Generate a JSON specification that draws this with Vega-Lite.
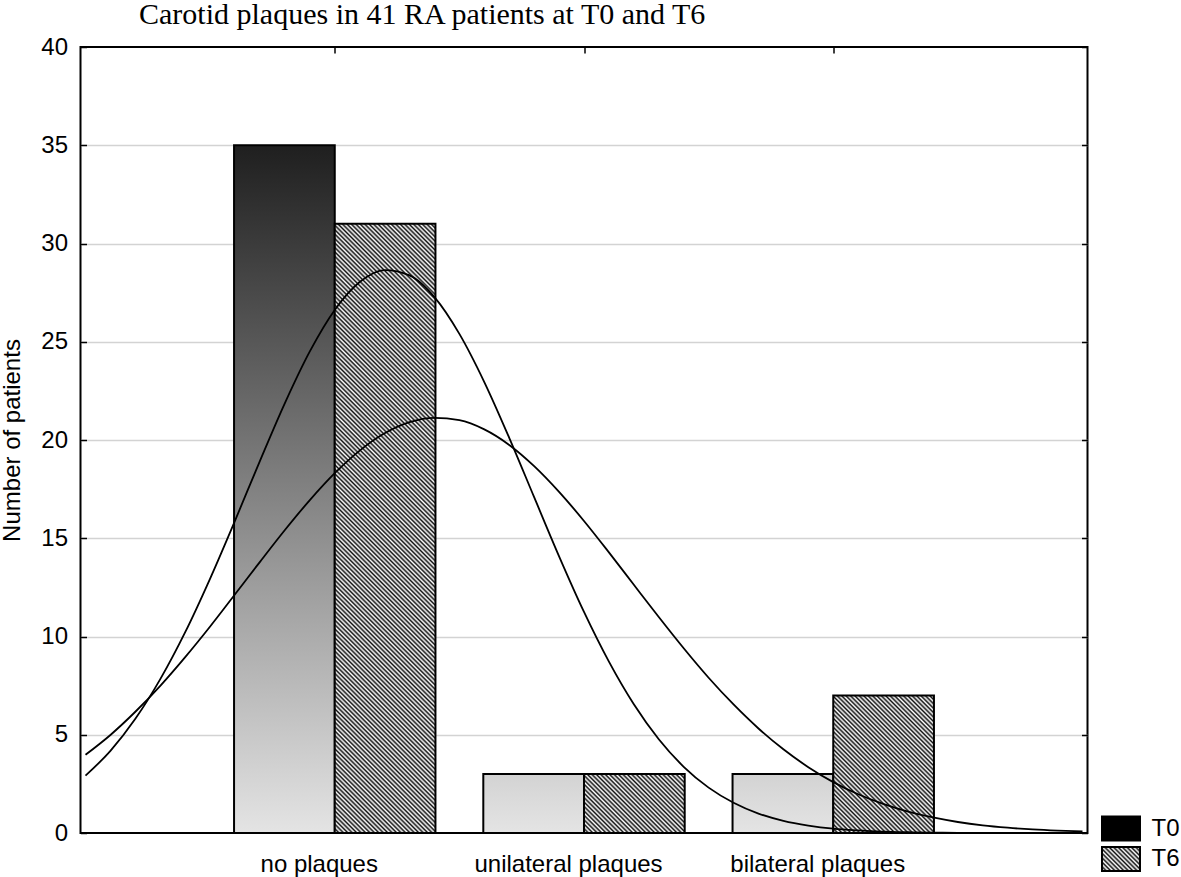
{
  "$schema": "https://vega.github.io/schema/vega-lite/v6.json",
  "width": 1007,
  "height": 786,
  "autosize": {"type": "none"},
  "padding": {"left": 80.5, "top": 47, "right": 93.5, "bottom": 44},
  "background": "white",
  "title": {"text": "Carotid plaques in 41 RA patients at T0 and T6", "anchor": "start", "frame": "group", "dx": 58.5, "offset": -19, "baseline": "alphabetic", "font": "Liberation Serif", "fontSize": 30, "fontWeight": "normal", "color": "#000"},
  "config": {
    "view": {"stroke": "#000", "strokeWidth": 2},
    "font": "Liberation Sans",
    "axis": {"labelFont": "Liberation Sans", "labelFontSize": 24, "labelColor": "#000", "titleFont": "Liberation Sans", "titleFontSize": 24, "titleFontWeight": "normal", "titleColor": "#000", "tickColor": "#000", "domain": false, "labelLimit": 400}
  },
  "datasets": {
    "bars": [
      {"category": "no plaques", "cat": 0, "series": "T0", "count": 35},
      {"category": "unilateral plaques", "cat": 1, "series": "T0", "count": 3},
      {"category": "bilateral plaques", "cat": 2, "series": "T0", "count": 3},
      {"category": "no plaques", "cat": 0, "series": "T6", "count": 31},
      {"category": "unilateral plaques", "cat": 1, "series": "T6", "count": 3},
      {"category": "bilateral plaques", "cat": 2, "series": "T6", "count": 7}
    ],
    "curves": [
      {"series": "T0", "pos": -1.0, "expected": 2.92},
      {"series": "T0", "pos": -0.9, "expected": 4.18},
      {"series": "T0", "pos": -0.8, "expected": 5.81},
      {"series": "T0", "pos": -0.7, "expected": 7.83},
      {"series": "T0", "pos": -0.6, "expected": 10.22},
      {"series": "T0", "pos": -0.5, "expected": 12.95},
      {"series": "T0", "pos": -0.4, "expected": 15.90},
      {"series": "T0", "pos": -0.3, "expected": 18.94},
      {"series": "T0", "pos": -0.2, "expected": 21.88},
      {"series": "T0", "pos": -0.1, "expected": 24.51},
      {"series": "T0", "pos": 0.0, "expected": 26.62},
      {"series": "T0", "pos": 0.1, "expected": 28.04},
      {"series": "T0", "pos": 0.2, "expected": 28.65},
      {"series": "T0", "pos": 0.3, "expected": 28.38},
      {"series": "T0", "pos": 0.4, "expected": 27.27},
      {"series": "T0", "pos": 0.5, "expected": 25.40},
      {"series": "T0", "pos": 0.6, "expected": 22.95},
      {"series": "T0", "pos": 0.7, "expected": 20.11},
      {"series": "T0", "pos": 0.8, "expected": 17.09},
      {"series": "T0", "pos": 0.9, "expected": 14.08},
      {"series": "T0", "pos": 1.0, "expected": 11.25},
      {"series": "T0", "pos": 1.1, "expected": 8.72},
      {"series": "T0", "pos": 1.2, "expected": 6.55},
      {"series": "T0", "pos": 1.3, "expected": 4.77},
      {"series": "T0", "pos": 1.4, "expected": 3.37},
      {"series": "T0", "pos": 1.5, "expected": 2.31},
      {"series": "T0", "pos": 1.6, "expected": 1.54},
      {"series": "T0", "pos": 1.7, "expected": 0.99},
      {"series": "T0", "pos": 1.8, "expected": 0.62},
      {"series": "T0", "pos": 1.9, "expected": 0.38},
      {"series": "T0", "pos": 2.0, "expected": 0.22},
      {"series": "T0", "pos": 2.1, "expected": 0.13},
      {"series": "T0", "pos": 2.2, "expected": 0.07},
      {"series": "T0", "pos": 2.3, "expected": 0.04},
      {"series": "T0", "pos": 2.4, "expected": 0.02},
      {"series": "T0", "pos": 2.5, "expected": 0.01},
      {"series": "T0", "pos": 2.7, "expected": 0.0},
      {"series": "T0", "pos": 3.0, "expected": 0.0},
      {"series": "T6", "pos": -1.0, "expected": 3.98},
      {"series": "T6", "pos": -0.9, "expected": 4.99},
      {"series": "T6", "pos": -0.8, "expected": 6.17},
      {"series": "T6", "pos": -0.7, "expected": 7.49},
      {"series": "T6", "pos": -0.6, "expected": 8.95},
      {"series": "T6", "pos": -0.5, "expected": 10.51},
      {"series": "T6", "pos": -0.4, "expected": 12.15},
      {"series": "T6", "pos": -0.3, "expected": 13.80},
      {"series": "T6", "pos": -0.2, "expected": 15.42},
      {"series": "T6", "pos": -0.1, "expected": 16.94},
      {"series": "T6", "pos": 0.0, "expected": 18.31},
      {"series": "T6", "pos": 0.1, "expected": 19.46},
      {"series": "T6", "pos": 0.2, "expected": 20.34},
      {"series": "T6", "pos": 0.3, "expected": 20.91},
      {"series": "T6", "pos": 0.4, "expected": 21.13},
      {"series": "T6", "pos": 0.5, "expected": 21.01},
      {"series": "T6", "pos": 0.6, "expected": 20.54},
      {"series": "T6", "pos": 0.7, "expected": 19.75},
      {"series": "T6", "pos": 0.8, "expected": 18.67},
      {"series": "T6", "pos": 0.9, "expected": 17.36},
      {"series": "T6", "pos": 1.0, "expected": 15.88},
      {"series": "T6", "pos": 1.1, "expected": 14.28},
      {"series": "T6", "pos": 1.2, "expected": 12.63},
      {"series": "T6", "pos": 1.3, "expected": 10.99},
      {"series": "T6", "pos": 1.4, "expected": 9.40},
      {"series": "T6", "pos": 1.5, "expected": 7.90},
      {"series": "T6", "pos": 1.6, "expected": 6.54},
      {"series": "T6", "pos": 1.7, "expected": 5.32},
      {"series": "T6", "pos": 1.8, "expected": 4.26},
      {"series": "T6", "pos": 1.9, "expected": 3.35},
      {"series": "T6", "pos": 2.0, "expected": 2.59},
      {"series": "T6", "pos": 2.1, "expected": 1.97},
      {"series": "T6", "pos": 2.2, "expected": 1.48},
      {"series": "T6", "pos": 2.3, "expected": 1.09},
      {"series": "T6", "pos": 2.4, "expected": 0.79},
      {"series": "T6", "pos": 2.5, "expected": 0.56},
      {"series": "T6", "pos": 2.6, "expected": 0.39},
      {"series": "T6", "pos": 2.7, "expected": 0.27},
      {"series": "T6", "pos": 2.8, "expected": 0.18},
      {"series": "T6", "pos": 2.9, "expected": 0.12},
      {"series": "T6", "pos": 3.0, "expected": 0.08}
    ]
  },
  "layer": [
    {
      "data": {"name": "bars"},
      "transform": [{"filter": "datum.series === 'T0' && datum.cat === 0"}],
      "mark": {"type": "bar", "orient": "vertical", "width": 100.7, "xOffset": -50.35, "stroke": "#000", "strokeWidth": 2,
        "fill": {"gradient": "linear", "x1": 0, "y1": 0, "x2": 0, "y2": 1, "stops": [{"offset": 0, "color": "#1f1f1f"}, {"offset": 1, "color": "#e4e4e4"}]}},
      "encoding": {
        "x": {"field": "cat", "type": "quantitative", "scale": {"domain": [-1, 3], "nice": false, "zero": false},
          "axis": {"orient": "bottom", "values": [0, 1, 2], "ticks": false, "grid": false, "title": null, "labelPadding": 19, "labelOffset": -16,
            "labelExpr": "datum.value === 0 ? 'no plaques' : datum.value === 1 ? 'unilateral plaques' : 'bilateral plaques'"}},
        "y": {"field": "count", "type": "quantitative", "scale": {"domain": [0, 40], "nice": false},
          "axis": {"orient": "left", "values": [0, 5, 10, 15, 20, 25, 30, 35, 40], "title": "Number of patients", "titlePadding": 16,
            "tickSize": -6, "tickWidth": 1.5, "labelPadding": 19, "grid": true, "gridColor": "#d3d3d3", "gridWidth": 1.5,
            "gridOpacity": {"condition": {"test": "datum.value === 0 || datum.value === 40", "value": 0}, "value": 1}}}
      }
    },
    {
      "data": {"name": "bars"},
      "transform": [{"filter": "datum.series === 'T0' && datum.cat > 0"}],
      "mark": {"type": "bar", "orient": "vertical", "width": 100.7, "xOffset": -50.35, "stroke": "#000", "strokeWidth": 2,
        "fill": {"gradient": "linear", "x1": 0, "y1": 0, "x2": 0, "y2": 1, "stops": [{"offset": 0, "color": "#d3d3d3"}, {"offset": 1, "color": "#e4e4e4"}]}},
      "encoding": {
        "x": {"field": "cat", "type": "quantitative", "axis": null},
        "y": {"field": "count", "type": "quantitative", "axis": null}
      }
    },
    {
      "data": {"name": "bars"},
      "transform": [{"filter": "datum.series === 'T6' && datum.cat === 0"}],
      "mark": {"type": "bar", "orient": "vertical", "width": 100.7, "xOffset": 50.35, "stroke": "#000", "strokeWidth": 2,
        "fill": {"gradient": "linear", "x1": 0, "y1": 1, "x2": 0.18752, "y2": -0.13432, "stops": [
{"offset":0,"color":"#111"},{"offset":0.003125,"color":"#fff"},{"offset":0.00625,"color":"#111"},{"offset":0.009375,"color":"#fff"},{"offset":0.0125,"color":"#111"},{"offset":0.015625,"color":"#fff"},{"offset":0.01875,"color":"#111"},{"offset":0.021875,"color":"#fff"},
{"offset":0.025,"color":"#111"},{"offset":0.028125,"color":"#fff"},{"offset":0.03125,"color":"#111"},{"offset":0.034375,"color":"#fff"},{"offset":0.0375,"color":"#111"},{"offset":0.040625,"color":"#fff"},{"offset":0.04375,"color":"#111"},{"offset":0.046875,"color":"#fff"},
{"offset":0.05,"color":"#111"},{"offset":0.053125,"color":"#fff"},{"offset":0.05625,"color":"#111"},{"offset":0.059375,"color":"#fff"},{"offset":0.0625,"color":"#111"},{"offset":0.065625,"color":"#fff"},{"offset":0.06875,"color":"#111"},{"offset":0.071875,"color":"#fff"},
{"offset":0.075,"color":"#111"},{"offset":0.078125,"color":"#fff"},{"offset":0.08125,"color":"#111"},{"offset":0.084375,"color":"#fff"},{"offset":0.0875,"color":"#111"},{"offset":0.090625,"color":"#fff"},{"offset":0.09375,"color":"#111"},{"offset":0.096875,"color":"#fff"},
{"offset":0.1,"color":"#111"},{"offset":0.103125,"color":"#fff"},{"offset":0.10625,"color":"#111"},{"offset":0.109375,"color":"#fff"},{"offset":0.1125,"color":"#111"},{"offset":0.115625,"color":"#fff"},{"offset":0.11875,"color":"#111"},{"offset":0.121875,"color":"#fff"},
{"offset":0.125,"color":"#111"},{"offset":0.128125,"color":"#fff"},{"offset":0.13125,"color":"#111"},{"offset":0.134375,"color":"#fff"},{"offset":0.1375,"color":"#111"},{"offset":0.140625,"color":"#fff"},{"offset":0.14375,"color":"#111"},{"offset":0.146875,"color":"#fff"},
{"offset":0.15,"color":"#111"},{"offset":0.153125,"color":"#fff"},{"offset":0.15625,"color":"#111"},{"offset":0.159375,"color":"#fff"},{"offset":0.1625,"color":"#111"},{"offset":0.165625,"color":"#fff"},{"offset":0.16875,"color":"#111"},{"offset":0.171875,"color":"#fff"},
{"offset":0.175,"color":"#111"},{"offset":0.178125,"color":"#fff"},{"offset":0.18125,"color":"#111"},{"offset":0.184375,"color":"#fff"},{"offset":0.1875,"color":"#111"},{"offset":0.190625,"color":"#fff"},{"offset":0.19375,"color":"#111"},{"offset":0.196875,"color":"#fff"},
{"offset":0.2,"color":"#111"},{"offset":0.203125,"color":"#fff"},{"offset":0.20625,"color":"#111"},{"offset":0.209375,"color":"#fff"},{"offset":0.2125,"color":"#111"},{"offset":0.215625,"color":"#fff"},{"offset":0.21875,"color":"#111"},{"offset":0.221875,"color":"#fff"},
{"offset":0.225,"color":"#111"},{"offset":0.228125,"color":"#fff"},{"offset":0.23125,"color":"#111"},{"offset":0.234375,"color":"#fff"},{"offset":0.2375,"color":"#111"},{"offset":0.240625,"color":"#fff"},{"offset":0.24375,"color":"#111"},{"offset":0.246875,"color":"#fff"},
{"offset":0.25,"color":"#111"},{"offset":0.253125,"color":"#fff"},{"offset":0.25625,"color":"#111"},{"offset":0.259375,"color":"#fff"},{"offset":0.2625,"color":"#111"},{"offset":0.265625,"color":"#fff"},{"offset":0.26875,"color":"#111"},{"offset":0.271875,"color":"#fff"},
{"offset":0.275,"color":"#111"},{"offset":0.278125,"color":"#fff"},{"offset":0.28125,"color":"#111"},{"offset":0.284375,"color":"#fff"},{"offset":0.2875,"color":"#111"},{"offset":0.290625,"color":"#fff"},{"offset":0.29375,"color":"#111"},{"offset":0.296875,"color":"#fff"},
{"offset":0.3,"color":"#111"},{"offset":0.303125,"color":"#fff"},{"offset":0.30625,"color":"#111"},{"offset":0.309375,"color":"#fff"},{"offset":0.3125,"color":"#111"},{"offset":0.315625,"color":"#fff"},{"offset":0.31875,"color":"#111"},{"offset":0.321875,"color":"#fff"},
{"offset":0.325,"color":"#111"},{"offset":0.328125,"color":"#fff"},{"offset":0.33125,"color":"#111"},{"offset":0.334375,"color":"#fff"},{"offset":0.3375,"color":"#111"},{"offset":0.340625,"color":"#fff"},{"offset":0.34375,"color":"#111"},{"offset":0.346875,"color":"#fff"},
{"offset":0.35,"color":"#111"},{"offset":0.353125,"color":"#fff"},{"offset":0.35625,"color":"#111"},{"offset":0.359375,"color":"#fff"},{"offset":0.3625,"color":"#111"},{"offset":0.365625,"color":"#fff"},{"offset":0.36875,"color":"#111"},{"offset":0.371875,"color":"#fff"},
{"offset":0.375,"color":"#111"},{"offset":0.378125,"color":"#fff"},{"offset":0.38125,"color":"#111"},{"offset":0.384375,"color":"#fff"},{"offset":0.3875,"color":"#111"},{"offset":0.390625,"color":"#fff"},{"offset":0.39375,"color":"#111"},{"offset":0.396875,"color":"#fff"},
{"offset":0.4,"color":"#111"},{"offset":0.403125,"color":"#fff"},{"offset":0.40625,"color":"#111"},{"offset":0.409375,"color":"#fff"},{"offset":0.4125,"color":"#111"},{"offset":0.415625,"color":"#fff"},{"offset":0.41875,"color":"#111"},{"offset":0.421875,"color":"#fff"},
{"offset":0.425,"color":"#111"},{"offset":0.428125,"color":"#fff"},{"offset":0.43125,"color":"#111"},{"offset":0.434375,"color":"#fff"},{"offset":0.4375,"color":"#111"},{"offset":0.440625,"color":"#fff"},{"offset":0.44375,"color":"#111"},{"offset":0.446875,"color":"#fff"},
{"offset":0.45,"color":"#111"},{"offset":0.453125,"color":"#fff"},{"offset":0.45625,"color":"#111"},{"offset":0.459375,"color":"#fff"},{"offset":0.4625,"color":"#111"},{"offset":0.465625,"color":"#fff"},{"offset":0.46875,"color":"#111"},{"offset":0.471875,"color":"#fff"},
{"offset":0.475,"color":"#111"},{"offset":0.478125,"color":"#fff"},{"offset":0.48125,"color":"#111"},{"offset":0.484375,"color":"#fff"},{"offset":0.4875,"color":"#111"},{"offset":0.490625,"color":"#fff"},{"offset":0.49375,"color":"#111"},{"offset":0.496875,"color":"#fff"},
{"offset":0.5,"color":"#111"},{"offset":0.503125,"color":"#fff"},{"offset":0.50625,"color":"#111"},{"offset":0.509375,"color":"#fff"},{"offset":0.5125,"color":"#111"},{"offset":0.515625,"color":"#fff"},{"offset":0.51875,"color":"#111"},{"offset":0.521875,"color":"#fff"},
{"offset":0.525,"color":"#111"},{"offset":0.528125,"color":"#fff"},{"offset":0.53125,"color":"#111"},{"offset":0.534375,"color":"#fff"},{"offset":0.5375,"color":"#111"},{"offset":0.540625,"color":"#fff"},{"offset":0.54375,"color":"#111"},{"offset":0.546875,"color":"#fff"},
{"offset":0.55,"color":"#111"},{"offset":0.553125,"color":"#fff"},{"offset":0.55625,"color":"#111"},{"offset":0.559375,"color":"#fff"},{"offset":0.5625,"color":"#111"},{"offset":0.565625,"color":"#fff"},{"offset":0.56875,"color":"#111"},{"offset":0.571875,"color":"#fff"},
{"offset":0.575,"color":"#111"},{"offset":0.578125,"color":"#fff"},{"offset":0.58125,"color":"#111"},{"offset":0.584375,"color":"#fff"},{"offset":0.5875,"color":"#111"},{"offset":0.590625,"color":"#fff"},{"offset":0.59375,"color":"#111"},{"offset":0.596875,"color":"#fff"},
{"offset":0.6,"color":"#111"},{"offset":0.603125,"color":"#fff"},{"offset":0.60625,"color":"#111"},{"offset":0.609375,"color":"#fff"},{"offset":0.6125,"color":"#111"},{"offset":0.615625,"color":"#fff"},{"offset":0.61875,"color":"#111"},{"offset":0.621875,"color":"#fff"},
{"offset":0.625,"color":"#111"},{"offset":0.628125,"color":"#fff"},{"offset":0.63125,"color":"#111"},{"offset":0.634375,"color":"#fff"},{"offset":0.6375,"color":"#111"},{"offset":0.640625,"color":"#fff"},{"offset":0.64375,"color":"#111"},{"offset":0.646875,"color":"#fff"},
{"offset":0.65,"color":"#111"},{"offset":0.653125,"color":"#fff"},{"offset":0.65625,"color":"#111"},{"offset":0.659375,"color":"#fff"},{"offset":0.6625,"color":"#111"},{"offset":0.665625,"color":"#fff"},{"offset":0.66875,"color":"#111"},{"offset":0.671875,"color":"#fff"},
{"offset":0.675,"color":"#111"},{"offset":0.678125,"color":"#fff"},{"offset":0.68125,"color":"#111"},{"offset":0.684375,"color":"#fff"},{"offset":0.6875,"color":"#111"},{"offset":0.690625,"color":"#fff"},{"offset":0.69375,"color":"#111"},{"offset":0.696875,"color":"#fff"},
{"offset":0.7,"color":"#111"},{"offset":0.703125,"color":"#fff"},{"offset":0.70625,"color":"#111"},{"offset":0.709375,"color":"#fff"},{"offset":0.7125,"color":"#111"},{"offset":0.715625,"color":"#fff"},{"offset":0.71875,"color":"#111"},{"offset":0.721875,"color":"#fff"},
{"offset":0.725,"color":"#111"},{"offset":0.728125,"color":"#fff"},{"offset":0.73125,"color":"#111"},{"offset":0.734375,"color":"#fff"},{"offset":0.7375,"color":"#111"},{"offset":0.740625,"color":"#fff"},{"offset":0.74375,"color":"#111"},{"offset":0.746875,"color":"#fff"},
{"offset":0.75,"color":"#111"},{"offset":0.753125,"color":"#fff"},{"offset":0.75625,"color":"#111"},{"offset":0.759375,"color":"#fff"},{"offset":0.7625,"color":"#111"},{"offset":0.765625,"color":"#fff"},{"offset":0.76875,"color":"#111"},{"offset":0.771875,"color":"#fff"},
{"offset":0.775,"color":"#111"},{"offset":0.778125,"color":"#fff"},{"offset":0.78125,"color":"#111"},{"offset":0.784375,"color":"#fff"},{"offset":0.7875,"color":"#111"},{"offset":0.790625,"color":"#fff"},{"offset":0.79375,"color":"#111"},{"offset":0.796875,"color":"#fff"},
{"offset":0.8,"color":"#111"},{"offset":0.803125,"color":"#fff"},{"offset":0.80625,"color":"#111"},{"offset":0.809375,"color":"#fff"},{"offset":0.8125,"color":"#111"},{"offset":0.815625,"color":"#fff"},{"offset":0.81875,"color":"#111"},{"offset":0.821875,"color":"#fff"},
{"offset":0.825,"color":"#111"},{"offset":0.828125,"color":"#fff"},{"offset":0.83125,"color":"#111"},{"offset":0.834375,"color":"#fff"},{"offset":0.8375,"color":"#111"},{"offset":0.840625,"color":"#fff"},{"offset":0.84375,"color":"#111"},{"offset":0.846875,"color":"#fff"},
{"offset":0.85,"color":"#111"},{"offset":0.853125,"color":"#fff"},{"offset":0.85625,"color":"#111"},{"offset":0.859375,"color":"#fff"},{"offset":0.8625,"color":"#111"},{"offset":0.865625,"color":"#fff"},{"offset":0.86875,"color":"#111"},{"offset":0.871875,"color":"#fff"},
{"offset":0.875,"color":"#111"},{"offset":0.878125,"color":"#fff"},{"offset":0.88125,"color":"#111"},{"offset":0.884375,"color":"#fff"},{"offset":0.8875,"color":"#111"},{"offset":0.890625,"color":"#fff"},{"offset":0.89375,"color":"#111"},{"offset":0.896875,"color":"#fff"},
{"offset":0.9,"color":"#111"},{"offset":0.903125,"color":"#fff"},{"offset":0.90625,"color":"#111"},{"offset":0.909375,"color":"#fff"},{"offset":0.9125,"color":"#111"},{"offset":0.915625,"color":"#fff"},{"offset":0.91875,"color":"#111"},{"offset":0.921875,"color":"#fff"},
{"offset":0.925,"color":"#111"},{"offset":0.928125,"color":"#fff"},{"offset":0.93125,"color":"#111"},{"offset":0.934375,"color":"#fff"},{"offset":0.9375,"color":"#111"},{"offset":0.940625,"color":"#fff"},{"offset":0.94375,"color":"#111"},{"offset":0.946875,"color":"#fff"},
{"offset":0.95,"color":"#111"},{"offset":0.953125,"color":"#fff"},{"offset":0.95625,"color":"#111"},{"offset":0.959375,"color":"#fff"},{"offset":0.9625,"color":"#111"},{"offset":0.965625,"color":"#fff"},{"offset":0.96875,"color":"#111"},{"offset":0.971875,"color":"#fff"},
{"offset":0.975,"color":"#111"},{"offset":0.978125,"color":"#fff"},{"offset":0.98125,"color":"#111"},{"offset":0.984375,"color":"#fff"},{"offset":0.9875,"color":"#111"},{"offset":0.990625,"color":"#fff"},{"offset":0.99375,"color":"#111"},{"offset":0.996875,"color":"#fff"},
{"offset":1,"color":"#111"}
        ]}},
      "encoding": {
        "x": {"field": "cat", "type": "quantitative",
          "axis": {"orient": "top", "values": [0, 1, 2], "labels": false, "ticks": true, "tickSize": -6, "tickWidth": 1.5, "grid": false, "title": null}},
        "y": {"field": "count", "type": "quantitative",
          "axis": {"orient": "right", "values": [0, 5, 10, 15, 20, 25, 30, 35, 40], "labels": false, "ticks": true, "tickSize": -6, "tickWidth": 1.5, "grid": false, "title": null}}
      }
    },
    {
      "data": {"name": "bars"},
      "transform": [{"filter": "datum.series === 'T6' && datum.cat === 1"}],
      "mark": {"type": "bar", "orient": "vertical", "width": 100.7, "xOffset": 50.35, "stroke": "#000", "strokeWidth": 2,
        "fill": {"gradient": "linear", "x1": 0, "y1": 1, "x2": 1.1808, "y2": 0.30876, "stops": [
{"offset":0,"color":"#111"},{"offset":0.0139,"color":"#fff"},{"offset":0.0278,"color":"#111"},{"offset":0.0417,"color":"#fff"},{"offset":0.0556,"color":"#111"},{"offset":0.0694,"color":"#fff"},{"offset":0.0833,"color":"#111"},{"offset":0.0972,"color":"#fff"},{"offset":0.1111,"color":"#111"},
{"offset":0.125,"color":"#fff"},{"offset":0.1389,"color":"#111"},{"offset":0.1528,"color":"#fff"},{"offset":0.1667,"color":"#111"},{"offset":0.1806,"color":"#fff"},{"offset":0.1944,"color":"#111"},{"offset":0.2083,"color":"#fff"},{"offset":0.2222,"color":"#111"},{"offset":0.2361,"color":"#fff"},
{"offset":0.25,"color":"#111"},{"offset":0.2639,"color":"#fff"},{"offset":0.2778,"color":"#111"},{"offset":0.2917,"color":"#fff"},{"offset":0.3056,"color":"#111"},{"offset":0.3194,"color":"#fff"},{"offset":0.3333,"color":"#111"},{"offset":0.3472,"color":"#fff"},{"offset":0.3611,"color":"#111"},
{"offset":0.375,"color":"#fff"},{"offset":0.3889,"color":"#111"},{"offset":0.4028,"color":"#fff"},{"offset":0.4167,"color":"#111"},{"offset":0.4306,"color":"#fff"},{"offset":0.4444,"color":"#111"},{"offset":0.4583,"color":"#fff"},{"offset":0.4722,"color":"#111"},{"offset":0.4861,"color":"#fff"},
{"offset":0.5,"color":"#111"},{"offset":0.5139,"color":"#fff"},{"offset":0.5278,"color":"#111"},{"offset":0.5417,"color":"#fff"},{"offset":0.5556,"color":"#111"},{"offset":0.5694,"color":"#fff"},{"offset":0.5833,"color":"#111"},{"offset":0.5972,"color":"#fff"},{"offset":0.6111,"color":"#111"},
{"offset":0.625,"color":"#fff"},{"offset":0.6389,"color":"#111"},{"offset":0.6528,"color":"#fff"},{"offset":0.6667,"color":"#111"},{"offset":0.6806,"color":"#fff"},{"offset":0.6944,"color":"#111"},{"offset":0.7083,"color":"#fff"},{"offset":0.7222,"color":"#111"},{"offset":0.7361,"color":"#fff"},
{"offset":0.75,"color":"#111"},{"offset":0.7639,"color":"#fff"},{"offset":0.7778,"color":"#111"},{"offset":0.7917,"color":"#fff"},{"offset":0.8056,"color":"#111"},{"offset":0.8194,"color":"#fff"},{"offset":0.8333,"color":"#111"},{"offset":0.8472,"color":"#fff"},{"offset":0.8611,"color":"#111"},
{"offset":0.875,"color":"#fff"},{"offset":0.8889,"color":"#111"},{"offset":0.9028,"color":"#fff"},{"offset":0.9167,"color":"#111"},{"offset":0.9306,"color":"#fff"},{"offset":0.9444,"color":"#111"},{"offset":0.9583,"color":"#fff"},{"offset":0.9722,"color":"#111"},{"offset":0.9861,"color":"#fff"},
{"offset":1,"color":"#111"}
        ]}},
      "encoding": {
        "x": {"field": "cat", "type": "quantitative", "axis": null},
        "y": {"field": "count", "type": "quantitative", "axis": null}
      }
    },
    {
      "data": {"name": "bars"},
      "transform": [{"filter": "datum.series === 'T6' && datum.cat === 2"}],
      "mark": {"type": "bar", "orient": "vertical", "width": 100.7, "xOffset": 50.35, "stroke": "#000", "strokeWidth": 2,
        "fill": {"gradient": "linear", "x1": 0, "y1": 1, "x2": 0.82558, "y2": -0.12769, "stops": [
{"offset":0,"color":"#111"},{"offset":0.0093,"color":"#fff"},{"offset":0.0185,"color":"#111"},{"offset":0.0278,"color":"#fff"},{"offset":0.037,"color":"#111"},{"offset":0.0463,"color":"#fff"},{"offset":0.0556,"color":"#111"},{"offset":0.0648,"color":"#fff"},{"offset":0.0741,"color":"#111"},{"offset":0.0833,"color":"#fff"},{"offset":0.0926,"color":"#111"},{"offset":0.1019,"color":"#fff"},{"offset":0.1111,"color":"#111"},{"offset":0.1204,"color":"#fff"},{"offset":0.1296,"color":"#111"},{"offset":0.1389,"color":"#fff"},{"offset":0.1481,"color":"#111"},{"offset":0.1574,"color":"#fff"},{"offset":0.1667,"color":"#111"},{"offset":0.1759,"color":"#fff"},{"offset":0.1852,"color":"#111"},{"offset":0.1944,"color":"#fff"},{"offset":0.2037,"color":"#111"},{"offset":0.213,"color":"#fff"},{"offset":0.2222,"color":"#111"},{"offset":0.2315,"color":"#fff"},{"offset":0.2407,"color":"#111"},
{"offset":0.25,"color":"#fff"},{"offset":0.2593,"color":"#111"},{"offset":0.2685,"color":"#fff"},{"offset":0.2778,"color":"#111"},{"offset":0.287,"color":"#fff"},{"offset":0.2963,"color":"#111"},{"offset":0.3056,"color":"#fff"},{"offset":0.3148,"color":"#111"},{"offset":0.3241,"color":"#fff"},{"offset":0.3333,"color":"#111"},{"offset":0.3426,"color":"#fff"},{"offset":0.3519,"color":"#111"},{"offset":0.3611,"color":"#fff"},{"offset":0.3704,"color":"#111"},{"offset":0.3796,"color":"#fff"},{"offset":0.3889,"color":"#111"},{"offset":0.3981,"color":"#fff"},{"offset":0.4074,"color":"#111"},{"offset":0.4167,"color":"#fff"},{"offset":0.4259,"color":"#111"},{"offset":0.4352,"color":"#fff"},{"offset":0.4444,"color":"#111"},{"offset":0.4537,"color":"#fff"},{"offset":0.463,"color":"#111"},{"offset":0.4722,"color":"#fff"},{"offset":0.4815,"color":"#111"},{"offset":0.4907,"color":"#fff"},
{"offset":0.5,"color":"#111"},{"offset":0.5093,"color":"#fff"},{"offset":0.5185,"color":"#111"},{"offset":0.5278,"color":"#fff"},{"offset":0.537,"color":"#111"},{"offset":0.5463,"color":"#fff"},{"offset":0.5556,"color":"#111"},{"offset":0.5648,"color":"#fff"},{"offset":0.5741,"color":"#111"},{"offset":0.5833,"color":"#fff"},{"offset":0.5926,"color":"#111"},{"offset":0.6019,"color":"#fff"},{"offset":0.6111,"color":"#111"},{"offset":0.6204,"color":"#fff"},{"offset":0.6296,"color":"#111"},{"offset":0.6389,"color":"#fff"},{"offset":0.6481,"color":"#111"},{"offset":0.6574,"color":"#fff"},{"offset":0.6667,"color":"#111"},{"offset":0.6759,"color":"#fff"},{"offset":0.6852,"color":"#111"},{"offset":0.6944,"color":"#fff"},{"offset":0.7037,"color":"#111"},{"offset":0.713,"color":"#fff"},{"offset":0.7222,"color":"#111"},{"offset":0.7315,"color":"#fff"},{"offset":0.7407,"color":"#111"},
{"offset":0.75,"color":"#fff"},{"offset":0.7593,"color":"#111"},{"offset":0.7685,"color":"#fff"},{"offset":0.7778,"color":"#111"},{"offset":0.787,"color":"#fff"},{"offset":0.7963,"color":"#111"},{"offset":0.8056,"color":"#fff"},{"offset":0.8148,"color":"#111"},{"offset":0.8241,"color":"#fff"},{"offset":0.8333,"color":"#111"},{"offset":0.8426,"color":"#fff"},{"offset":0.8519,"color":"#111"},{"offset":0.8611,"color":"#fff"},{"offset":0.8704,"color":"#111"},{"offset":0.8796,"color":"#fff"},{"offset":0.8889,"color":"#111"},{"offset":0.8981,"color":"#fff"},{"offset":0.9074,"color":"#111"},{"offset":0.9167,"color":"#fff"},{"offset":0.9259,"color":"#111"},{"offset":0.9352,"color":"#fff"},{"offset":0.9444,"color":"#111"},{"offset":0.9537,"color":"#fff"},{"offset":0.963,"color":"#111"},{"offset":0.9722,"color":"#fff"},{"offset":0.9815,"color":"#111"},{"offset":0.9907,"color":"#fff"},
{"offset":1,"color":"#111"}
        ]}},
      "encoding": {
        "x": {"field": "cat", "type": "quantitative", "axis": null},
        "y": {"field": "count", "type": "quantitative", "axis": null}
      }
    },
    {
      "data": {"name": "curves"},
      "mark": {"type": "line", "interpolate": "monotone", "strokeWidth": 1.8, "clip": true, "color": "#000"},
      "encoding": {
        "x": {"field": "pos", "type": "quantitative", "axis": null},
        "y": {"field": "expected", "type": "quantitative", "axis": null},
        "detail": {"field": "series", "type": "nominal"}
      }
    },
    {
      "data": {"name": "bars"},
      "mark": {"type": "square", "opacity": 0},
      "encoding": {
        "x": {"field": "cat", "type": "quantitative", "axis": null},
        "y": {"field": "count", "type": "quantitative", "axis": null},
        "fill": {"field": "series", "type": "nominal",
          "scale": {"domain": ["T0", "T6"], "range": ["#000", {"expr": "{gradient: 'linear', x1: 0, y1: 1, x2: 1.16634, y2: 0.26337, stops: [{offset: 0, color: '#111'}, {offset: 0.0357, color: '#fff'}, {offset: 0.0714, color: '#111'}, {offset: 0.1071, color: '#fff'}, {offset: 0.1429, color: '#111'}, {offset: 0.1786, color: '#fff'}, {offset: 0.2143, color: '#111'}, {offset: 0.25, color: '#fff'}, {offset: 0.2857, color: '#111'}, {offset: 0.3214, color: '#fff'}, {offset: 0.3571, color: '#111'}, {offset: 0.3929, color: '#fff'}, {offset: 0.4286, color: '#111'}, {offset: 0.4643, color: '#fff'}, {offset: 0.5, color: '#111'}, {offset: 0.5357, color: '#fff'}, {offset: 0.5714, color: '#111'}, {offset: 0.6071, color: '#fff'}, {offset: 0.6429, color: '#111'}, {offset: 0.6786, color: '#fff'}, {offset: 0.7143, color: '#111'}, {offset: 0.75, color: '#fff'}, {offset: 0.7857, color: '#111'}, {offset: 0.8214, color: '#fff'}, {offset: 0.8571, color: '#111'}, {offset: 0.8929, color: '#fff'}, {offset: 0.9286, color: '#111'}, {offset: 0.9643, color: '#fff'}, {offset: 1, color: '#111'}]}"}]},
          "legend": {"orient": "none", "legendX": 1027.5, "legendY": 768.5, "title": null, "padding": 0,
            "symbolType": "M-1.583,-1H1.583V1H-1.583Z", "symbolSize": 576, "symbolStrokeWidth": 2, "symbolStrokeColor": "#000", "symbolOpacity": 1,
            "labelFont": "Liberation Sans", "labelFontSize": 24, "labelColor": "#000", "labelOffset": 17.5, "rowPadding": -1.5}}
      }
    }
  ]
}
